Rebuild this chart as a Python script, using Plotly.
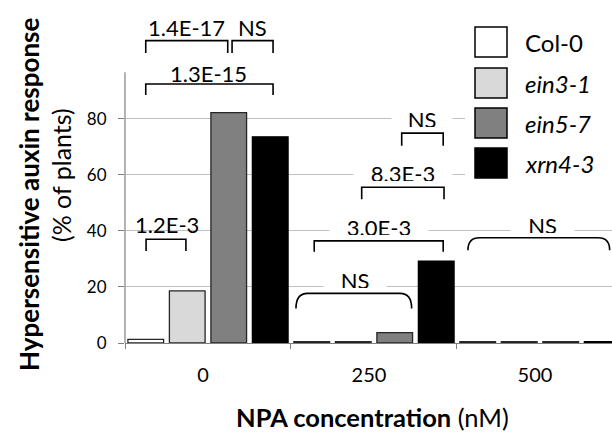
import plotly.graph_objects as go

# ---- data ----
categories = ["0", "250", "500"]
series_names = ["Col-0", "ein3-1", "ein5-7", "xrn4-3"]
col0 = [1.3, 0.5, 0.5]
ein3_1 = [18.6, 0.5, 0.5]
ein5_7 = [82.1, 3.7, 0.5]
xrn4_3 = [73.5, 29.2, 0.5]
y_ticks = [0, 20, 40, 60, 80]

# ---- styles ----
FONT = "Lato"
fills = ["#ffffff", "#d9d9d9", "#808080", "#000000"]
borders = ["#262626", "#262626", "#262626", "#000000"]
italic = [False, True, True, True]
GRID = "#bfbfbf"
AXIS = "#808080"

fig = go.Figure()
for name, vals, fc, bc in zip(series_names, [col0, ein3_1, ein5_7, xrn4_3], fills, borders):
    fig.add_trace(go.Bar(
        x=categories, y=vals, name=name,
        marker=dict(color=fc, line=dict(color=bc, width=1.3)),
        showlegend=False,
    ))

# significance brackets: (x0, x1, y_top, y_leg, style)
brackets = [
    (-0.375, 0.119, 107.8, 103.4, "square"),
    (0.145, 0.392, 107.8, 103.4, "square"),
    (-0.375, 0.392, 92.3, 88.4, "square"),
    (-0.373, -0.133, 37.0, 32.8, "square"),
    (0.530, 1.227, 17.7, 12.3, "round"),
    (0.640, 1.417, 36.4, 32.5, "square"),
    (0.926, 1.422, 55.5, 51.2, "square"),
    (1.167, 1.417, 74.8, 70.3, "square"),
    (1.566, 2.42, 37.5, 33.1, "round"),
]
# bracket labels: (x, y, text, white background width)
labels = [
    (-0.128, 112.3, "1.4E-17", None),
    (0.271, 112.3, "NS", None),
    (0.006, 95.9, "1.3E-15", None),
    (-0.249, 42.1, "1.2E-3", None),
    (0.886, 22.5, "NS", 62),
    (1.030, 41.5, "3.0E-3", 98),
    (1.172, 60.5, "8.3E-3", 98),
    (1.292, 80.0, "NS", 60),
    (2.015, 42.1, "NS", 63),
]

shapes = []
for x0, x1, yt, yb, style in brackets:
    if style == "square":
        path = f"M{x0},{yb} L{x0},{yt} L{x1},{yt} L{x1},{yb}"
    else:
        d = 0.07
        path = (f"M{x0},{yb} Q{x0},{yt} {x0 + d},{yt} L{x1 - d},{yt} "
                f"Q{x1},{yt} {x1},{yb}")
    shapes.append(dict(type="path", xref="x", yref="y", path=path,
                       line=dict(color="black", width=1.6)))

# y axis line (only up to the top of the value range)
shapes.append(dict(type="line", xref="paper", yref="y", x0=0, x1=0, y0=0, y1=96.5,
                   line=dict(color=AXIS, width=1.2)))

annotations = []
for x, y, t, w in labels:
    a = dict(x=x, y=y, xref="x", yref="y", text=t, showarrow=False,
             xanchor="center", yanchor="middle",
             font=dict(family=FONT, size=22, color="black"))
    if w:
        a.update(bgcolor="white", width=w, height=16, borderpad=0)
    annotations.append(a)

# legend (drawn manually to get large swatches)
shapes.append(dict(type="rect", xref="paper", yref="paper", xsizemode="pixel", ysizemode="pixel",
                   xanchor=0, yanchor=0, x0=340, x1=500, y0=156, y1=328,
                   fillcolor="white", line=dict(width=0), layer="above"))
leg_y = [42, 83, 123, 163]
for name, fc, bc, it, ly in zip(series_names, fills, borders, italic, leg_y):
    shapes.append(dict(type="rect", xref="paper", yref="paper", xsizemode="pixel", ysizemode="pixel",
                       xanchor=0, yanchor=0, x0=350, x1=382, y0=343 - ly - 15, y1=343 - ly + 15,
                       fillcolor=fc, line=dict(color="black", width=1.5), layer="above"))
    annotations.append(dict(x=0, y=0, xref="paper", yref="paper", xshift=398, yshift=343 - ly,
                            xanchor="left", yanchor="middle", showarrow=False,
                            text=f"<i>{name}</i>" if it else name,
                            font=dict(family=FONT, size=24, color="black")))

# axis titles
annotations.append(dict(x=0, y=0, xref="paper", yref="paper", xshift=29 - 125, yshift=343 - 195,
                        xanchor="center", yanchor="middle",
                        textangle=-90, showarrow=False,
                        text="<b>Hypersensitive auxin response</b>",
                        font=dict(family=FONT, size=26, color="black")))
annotations.append(dict(x=0, y=0, xref="paper", yref="paper", xshift=61 - 125, yshift=343 - 175,
                        xanchor="center", yanchor="middle",
                        textangle=-90, showarrow=False,
                        text="(% of plants)",
                        font=dict(family=FONT, size=25, color="black")))
annotations.append(dict(x=0, y=0, xref="paper", yref="paper", xshift=372 - 125, yshift=343 - 417,
                        xanchor="center", yanchor="middle", showarrow=False,
                        text="<b>NPA concentration</b> (nM)",
                        font=dict(family=FONT, size=25.5, color="black")))

fig.update_layout(
    width=612, height=441,
    margin=dict(l=125, r=0, t=10, b=98),
    paper_bgcolor="white", plot_bgcolor="white",
    barmode="group", bargap=0, bargroupgap=0.14,
    font=dict(family=FONT, color="black"),
    shapes=shapes, annotations=annotations,
    showlegend=False,
)
fig.update_xaxes(
    type="category", range=[-0.5, 2.434],
    showline=True, linecolor=AXIS, linewidth=1.2,
    ticks="outside", tickson="boundaries", ticklen=5, tickcolor=AXIS,
    showgrid=False, tickfont=dict(family=FONT, size=20, color="black"),
    ticklabelstandoff=14, ticklabelshift=-5,
)
fig.update_yaxes(
    range=[0, 118.7], tickvals=y_ticks, showline=False,
    showgrid=True, gridcolor=GRID, gridwidth=1, zeroline=False,
    ticks="outside", ticklen=6, tickcolor=AXIS,
    tickfont=dict(family=FONT, size=17, color="black"),
    ticklabelstandoff=8,
)

fig.write_html("out.html", config={"displayModeBar": False},
               post_script="document.body.style.margin='0px';document.body.style.overflow='hidden';")
